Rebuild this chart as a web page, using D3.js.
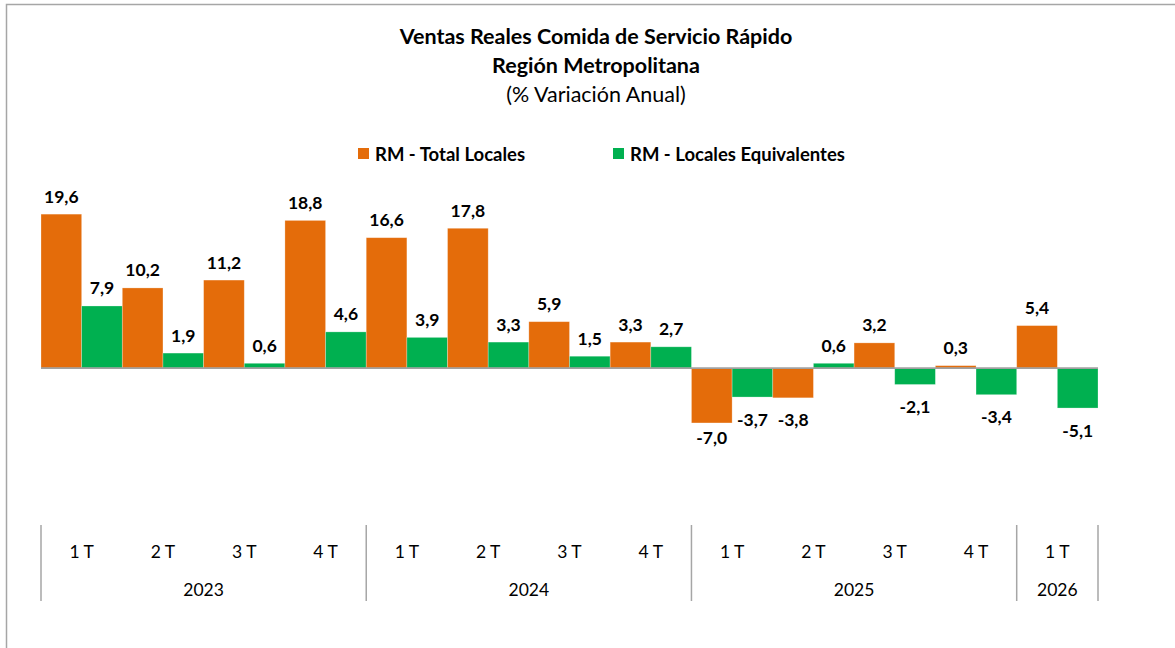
<!DOCTYPE html>
<html>
<head>
<meta charset="utf-8">
<script src="https://cdn.jsdelivr.net/npm/d3@7"></script>
<style>
  html, body { margin: 0; padding: 0; background: #fff; }
  svg { display: block; font-family: Lato, "Open Sans", sans-serif; }
</style>
</head>
<body>
<svg id="chart" width="1175" height="648"></svg>
<script>
// ---- data ----
const quarters = ["1 T","2 T","3 T","4 T","1 T","2 T","3 T","4 T","1 T","2 T","3 T","4 T","1 T"];
const years = ["2023","2023","2023","2023","2024","2024","2024","2024","2025","2025","2025","2025","2026"];
const totalLocales = [19.6,10.2,11.2,18.8,16.6,17.8,5.9,3.3,-7.0,-3.8,3.2,0.3,5.4];
const localesEquivalentes = [7.9,1.9,0.6,4.6,3.9,3.3,1.5,2.7,-3.7,0.6,-2.1,-3.4,-5.1];
const seriesNames = ["RM - Total Locales","RM - Locales Equivalentes"];
const titleLines = ["Ventas Reales Comida de Servicio Rápido","Región Metropolitana","(% Variación Anual)"];

// ---- layout ----
const W = 1175, H = 648;
const plot = {left: 41, right: 1098, zero: 368};
const colors = ["#E46C0A", "#00B050"];
const svg = d3.select("#chart");

// frame
svg.append("rect").attr("x", 6.5).attr("y", 4.5).attr("width", 1200).attr("height", 700)
  .attr("fill", "none").attr("stroke", "#a6a6a6").attr("stroke-width", 1.5);

// title
const tY = [36, 65, 94];
titleLines.forEach((t, i) => {
  svg.append("text").attr("x", 596).attr("y", tY[i]).attr("text-anchor", "middle")
    .attr("dominant-baseline", "central")
    .attr("font-size", 21.5).attr("font-weight", i < 2 ? "bold" : "normal")
    .attr("fill", "#000").text(t);
});

// legend
const legendX = [358, 613];
seriesNames.forEach((s, i) => {
  svg.append("rect").attr("x", legendX[i]).attr("y", 148).attr("width", 11).attr("height", 11)
    .attr("fill", colors[i]);
  svg.append("text").attr("x", legendX[i] + 17).attr("y", 153.5).attr("dominant-baseline", "central")
    .attr("font-size", 18.5).attr("font-weight", "bold").attr("fill", "#000").text(s);
});

// scales
const idx = d3.range(quarters.length);
const x = d3.scaleBand().domain(idx).range([plot.left, plot.right]).padding(0);
const xs = d3.scaleBand().domain([0, 1]).range([0, x.bandwidth()]).padding(0);
const pxPerUnit = 7.85;
const y = d3.scaleLinear().domain([-10, 25]).range([plot.zero + 10 * pxPerUnit, plot.zero - 25 * pxPerUnit]);

const loc = d3.formatLocale({decimal: ",", thousands: ".", grouping: [3], currency: ["$", ""], minus: "-"});
const fmt = loc.format(".1f");

const data = [];
idx.forEach(i => {
  [totalLocales[i], localesEquivalentes[i]].forEach((v, s) => data.push({i, s, v}));
});

// bars
svg.append("g").selectAll("rect").data(data).join("rect")
  .attr("x", d => x(d.i) + xs(d.s))
  .attr("width", xs.bandwidth())
  .attr("y", d => Math.min(y(d.v), y(0)))
  .attr("height", d => Math.abs(y(d.v) - y(0)))
  .attr("fill", d => colors[d.s])
  .attr("stroke", "#fff").attr("stroke-opacity", 0.35).attr("stroke-width", 0.75);

// zero line
svg.append("line").attr("x1", plot.left).attr("x2", plot.right)
  .attr("y1", y(0)).attr("y2", y(0)).attr("stroke", "#a0a0a0").attr("stroke-width", 1.75);

// labels
const plotBottom = 437;
svg.append("g").selectAll("text").data(data).join("text")
  .attr("x", d => x(d.i) + xs(d.s) + xs.bandwidth() / 2)
  .attr("y", d => d.v >= 0 ? y(d.v) - 18 : Math.min(y(d.v) + 22, plotBottom))
  .attr("text-anchor", "middle").attr("dominant-baseline", "central")
  .attr("font-size", 17.5).attr("font-weight", "bold").attr("fill", "#000")
  .text(d => fmt(d.v));

// category axis
const axisTop = 525, axisBot = 601;
const ax = svg.append("g");
ax.selectAll("text.q").data(idx).join("text").attr("class", "q")
  .attr("x", i => x(i) + x.bandwidth() / 2).attr("y", 551)
  .attr("text-anchor", "middle").attr("dominant-baseline", "central")
  .attr("font-size", 17.5).attr("fill", "#000").text(i => quarters[i]);

const groups = d3.groups(idx, i => years[i]).map(([yr, arr]) => ({yr, first: arr[0], last: arr[arr.length - 1]}));
ax.selectAll("text.yr").data(groups).join("text").attr("class", "yr")
  .attr("x", g => (x(g.first) + x(g.last) + x.bandwidth()) / 2).attr("y", 589)
  .attr("text-anchor", "middle").attr("dominant-baseline", "central")
  .attr("font-size", 17.5).attr("fill", "#000").text(g => g.yr);

const seps = [x(0)].concat(groups.map(g => x(g.last) + x.bandwidth()));
ax.selectAll("line.sep").data(seps).join("line").attr("class", "sep")
  .attr("x1", d => d).attr("x2", d => d).attr("y1", axisTop).attr("y2", axisBot)
  .attr("stroke", "#a6a6a6").attr("stroke-width", 1.5);
</script>
</body>
</html>
